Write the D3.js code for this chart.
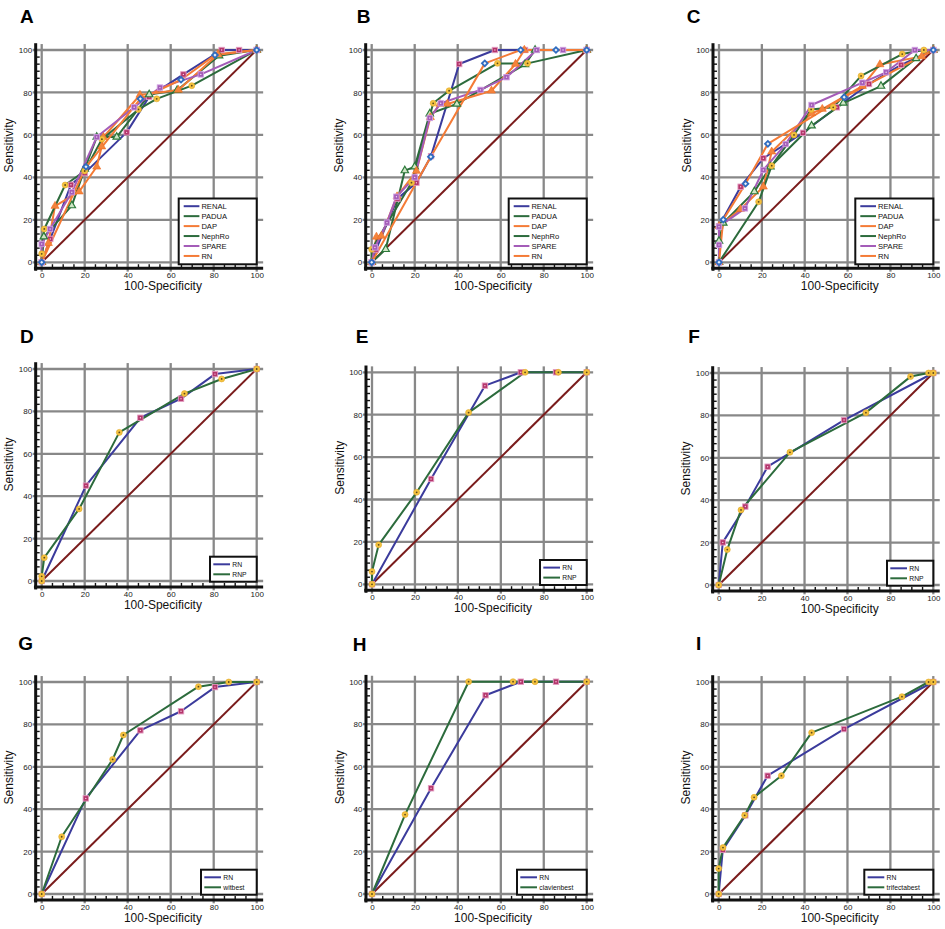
<!DOCTYPE html>
<html><head><meta charset="utf-8">
<script src="https://cdn.jsdelivr.net/npm/d3@7"></script>
<style>body{margin:0;background:#fff}svg{display:block}</style>
</head><body>
<svg id="c" width="945" height="929"></svg>
<script>
// ---------- data ----------
const tickValues = [0, 20, 40, 60, 80, 100];
const panelLetters = ["A","B","C","D","E","F","G","H","I"];
const namesABC = ["RENAL","PADUA","DAP","NephRo","SPARE","RN"];
const namesD = ["RN","RNP"];
const namesE = ["RN","RNP"];
const namesF = ["RN","RNP"];
const namesG = ["RN","witbest"];
const namesH = ["RN","clavienbest"];
const namesI = ["RN","trifectabest"];

// [100-Specificity, Sensitivity]
const A_RENAL  = [[0,0],[4,11],[13.6,36.5],[20,42],[39.5,61.2],[50,78],[65.9,88.5],[83.7,100],[91.8,100],[100,100]];
const A_PADUA  = [[0,0],[1,12],[14,26.7],[20,44],[25.6,59],[34.9,59],[50,79],[63,81],[82.5,97.3],[100,100]];
const A_DAP    = [[0,0],[3.1,9],[6.2,26.5],[17.4,33.3],[25.6,45],[27.9,54.5],[28.7,58.9],[45.7,78.8],[63.6,81.2],[82,98],[100,100]];
const A_NephRo = [[0,0],[0,4],[1.2,15.7],[10.9,36.4],[20,43],[28,58],[45,72],[53.5,77],[69.8,83.2],[100,100]];
const A_SPARE  = [[0,0],[0,8.6],[3.9,15.7],[14,33],[25.6,59],[43,73],[55,82.3],[74,88.5],[100,100]];
const A_RN     = [[0,0],[20.6,45],[45.9,77],[64.8,86],[80.6,97.6],[100,100]];

const B_RENAL  = [[0,0],[2,6],[12,30],[20.8,37.5],[27.6,50],[40.7,93.4],[57.3,100],[71.3,100],[100,100]];
const B_PADUA  = [[0,0],[6.5,6.1],[15.4,43.2],[20,45],[27,70],[39.6,74.6],[71.3,93.2],[76,100],[100,100]];
const B_DAP    = [[0,0],[2.2,12],[4.5,12.4],[11.8,31],[20.8,43],[27.3,68.3],[31.7,74.6],[35.2,74.6],[55.7,80.8],[66.9,93.4],[71,100],[100,100]];
const B_NephRo = [[0,0],[0,6.1],[18.5,37.5],[28.6,74.9],[36,80.8],[58.5,93.7],[72.5,93.7],[100,100]];
const B_SPARE  = [[0,0],[1.5,7],[7.1,18.7],[11.5,30.9],[20,40],[27,68],[32.1,74.9],[50.6,81.2],[62.7,87.2],[76.7,100],[89,100],[100,100]];
const B_RN     = [[0,0],[27.5,49.7],[52.6,93.7],[69.3,100],[85.7,100],[100,100]];

const C_RENAL  = [[0,0],[0,17],[10.1,35.6],[20.7,49],[39.2,61],[55,73],[70,84],[85,93],[100,100]];
const C_PADUA  = [[0,0],[0,10],[2,18.5],[16.5,33.3],[24,45],[43.2,64.3],[58,75],[75.6,83],[92,96],[100,100]];
const C_DAP    = [[0,0],[0,17],[10,25],[20.7,35.6],[24.6,52.1],[43.2,70.2],[48.2,72.2],[66.9,83],[75.1,93.2],[94.6,97],[100,100]];
const C_NephRo = [[0,0],[18.5,28.5],[24.6,45.5],[35,60],[43,72],[53.3,73],[66.3,87.8],[85.5,98.1],[95.6,100],[100,100]];
const C_SPARE  = [[0,0],[0,8.2],[0,16.8],[12.1,25.4],[20.7,43.5],[31.1,55.7],[43.2,74.1],[66.9,84.6],[78,89.5],[91.4,100],[100,100]];
const C_RN     = [[0,0],[2,20.1],[12.4,37],[22.8,55.8],[58.4,77.8],[100,100]];

const D_RN  = [[0,0],[20.6,45],[45.9,77],[64.8,86],[80.6,97.6],[100,100]];
const D_RNP = [[0,0],[0,2.2],[1.2,11],[17.4,34],[36.1,70.1],[66.4,88.4],[83.7,95.3],[100,100]];
const E_RN  = [[0,0],[27.5,49.7],[52.6,93.7],[69.3,100],[85.7,100],[100,100]];
const E_RNP = [[0,0],[0,6],[3.1,18.6],[20.8,43.4],[45,81],[71.3,100],[86.8,100],[100,100]];
const F_RN  = [[0,0],[1.9,20.1],[12.4,37],[22.8,55.8],[58.4,77.8],[100,100]];
const F_RNP = [[0,0],[4,16.7],[10.4,35.4],[33.2,62.6],[68.6,81.3],[89.4,98.3],[97.8,100],[100,100]];
const G_RN      = [[0,0],[20.5,45.1],[45.9,77.2],[64.8,86.2],[80.6,97.6],[100,100]];
const G_witbest = [[0,0],[9.3,27],[33,63.5],[38,75],[72.9,97.8],[87,100],[100,100]];
const H_RN          = [[0,0],[27.5,49.8],[52.9,93.6],[69.3,100],[85.7,100],[100,100]];
const H_clavienbest = [[0,0],[15.4,37.4],[45,100],[65.7,100],[75.9,100],[100,100]];
const I_RN           = [[0,0],[1.9,20.8],[12.4,37.1],[22.8,55.8],[58.4,77.8],[100,100]];
const I_trifectabest = [[0,0],[0,12],[2,21.9],[12.1,37.1],[16.5,45.6],[29.2,55.8],[43.3,76.1],[85.4,93.1],[97.8,100],[100,100]];

// ---------- styles / layout ----------
const FONT = "'Liberation Sans', Arial, Helvetica, sans-serif";
const styleABC = {
  RENAL:  {color:"#3b3b9c", marker:"rsq"},
  PADUA:  {color:"#2c6b3c", marker:"gtri"},
  DAP:    {color:"#f47b36", marker:"otri"},
  NephRo: {color:"#2c6b3c", marker:"ycirc"},
  SPARE:  {color:"#a45cb8", marker:"psq"},
  RN:     {color:"#f47b36", marker:"bdia"}
};
const style2 = [{color:"#3b3b9c", marker:"rsq"},{color:"#2c6b3c", marker:"ycirc"}];

const panels = [
  {x0:41.7, x100:256.7, y0:262.3, y100:50, lx:20, ly:22.7, legW:78, names:namesABC, data:[A_RENAL,A_PADUA,A_DAP,A_NephRo,A_SPARE,A_RN]},
  {x0:371.7, x100:586.7, y0:262.3, y100:50, lx:356.7, ly:22.7, legW:78, names:namesABC, data:[B_RENAL,B_PADUA,B_DAP,B_NephRo,B_SPARE,B_RN]},
  {x0:719, x100:933.3, y0:262.3, y100:50, lx:686.7, ly:22.7, legW:78, names:namesABC, data:[C_RENAL,C_PADUA,C_DAP,C_NephRo,C_SPARE,C_RN]},
  {x0:41.7, x100:256.7, y0:581, y100:369, lx:20, ly:343.3, legW:46.7, names:namesD, data:[D_RN,D_RNP]},
  {x0:372, x100:586.7, y0:584.3, y100:372.3, lx:355.7, ly:343.3, legW:46.7, names:namesE, data:[E_RN,E_RNP]},
  {x0:718.7, x100:933.3, y0:585, y100:373, lx:688.3, ly:343.3, legW:46.3, names:namesF, data:[F_RN,F_RNP]},
  {x0:41.7, x100:256.7, y0:894, y100:682, lx:18.3, ly:650, legW:55.7, names:namesG, data:[G_RN,G_witbest]},
  {x0:372, x100:586.7, y0:894, y100:681.7, lx:352.7, ly:650.7, legW:69.7, names:namesH, data:[H_RN,H_clavienbest]},
  {x0:718.7, x100:933.3, y0:894, y100:682, lx:696, ly:650, legW:69, names:namesI, data:[I_RN,I_trifectabest]}
];

const svg = d3.select("#c");
svg.append("rect").attr("width",945).attr("height",929).attr("fill","#fff");

function drawMarker(g, type, px, py) {
  if (type === "rsq") {
    g.append("rect").attr("x",px-2.7).attr("y",py-2.7).attr("width",5.4).attr("height",5.4)
      .attr("fill","#b4356b").attr("stroke","#e39ac0").attr("stroke-width",0.9);
    g.append("circle").attr("cx",px).attr("cy",py).attr("r",0.7).attr("fill","#f3d0e0");
  } else if (type === "psq") {
    g.append("rect").attr("x",px-2.7).attr("y",py-2.7).attr("width",5.4).attr("height",5.4)
      .attr("fill","#a45cb8").attr("stroke","#cf9ee0").attr("stroke-width",0.9);
    g.append("circle").attr("cx",px).attr("cy",py).attr("r",0.7).attr("fill","#f0e0f5");
  } else if (type === "ycirc") {
    g.append("circle").attr("cx",px).attr("cy",py).attr("r",3)
      .attr("fill","#f4c23f").attr("stroke","#e3aa2a").attr("stroke-width",0.6);
    g.append("circle").attr("cx",px).attr("cy",py).attr("r",0.9).attr("fill","#5c4a1c");
  } else if (type === "otri") {
    g.append("path").attr("d",d3.symbol(d3.symbolTriangle,28)()).attr("transform",`translate(${px},${py})`)
      .attr("fill","#f4843c").attr("stroke","#f06a20").attr("stroke-width",0.6);
  } else if (type === "gtri") {
    g.append("path").attr("d",d3.symbol(d3.symbolTriangle,24)()).attr("transform",`translate(${px},${py})`)
      .attr("fill","#cfe6c6").attr("stroke","#2c7a3a").attr("stroke-width",1.2);
  } else if (type === "bdia") {
    g.append("path").attr("d",d3.symbol(d3.symbolSquare,16)()).attr("transform",`translate(${px},${py}) rotate(45)`)
      .attr("fill","#e8f0fa").attr("stroke","#2f6cc0").attr("stroke-width",1.8);
  }
}

panels.forEach((p, i) => {
  const x = d3.scaleLinear().domain([0,100]).range([p.x0, p.x100]);
  const y = d3.scaleLinear().domain([0,100]).range([p.y0, p.y100]);
  const g = svg.append("g");

  // grid
  g.selectAll(null).data(tickValues).enter().append("line")
    .attr("x1",d=>x(d)).attr("x2",d=>x(d)).attr("y1",y(102.8)).attr("y2",y(-4.4))
    .attr("stroke","#888").attr("stroke-width",2.3);
  g.selectAll(null).data(tickValues).enter().append("line")
    .attr("y1",d=>y(d)).attr("y2",d=>y(d)).attr("x1",x(-4.2)).attr("x2",x(103))
    .attr("stroke","#888").attr("stroke-width",2.3);

  // minor ticks
  const minorX = d3.range(5, 100, 5).filter(v => v % 20 !== 0);
  const minorY = d3.range(1, 30).map(k => k * 20 / 6).filter((v, k) => (k + 1) % 6 !== 0);
  const axX = x(-2.8), axY = y(-2.8);
  g.selectAll(null).data(minorX).enter().append("line")
    .attr("x1",d=>x(d)).attr("x2",d=>x(d)).attr("y1",axY).attr("y2",axY-4)
    .attr("stroke","#111").attr("stroke-width",1.4);
  g.selectAll(null).data(minorY).enter().append("line")
    .attr("y1",d=>y(d)).attr("y2",d=>y(d)).attr("x1",axX).attr("x2",axX+4)
    .attr("stroke","#111").attr("stroke-width",1.4);

  // axis lines
  g.append("line").attr("x1",axX).attr("x2",axX).attr("y1",y(-4)).attr("y2",y(103.2))
    .attr("stroke","#111").attr("stroke-width",3);
  g.append("line").attr("x1",x(-3.6)).attr("x2",x(103)).attr("y1",axY).attr("y2",axY)
    .attr("stroke","#111").attr("stroke-width",3);

  // tick labels via d3 axes
  const ax = g.append("g").attr("transform",`translate(0,${axY})`)
    .call(d3.axisBottom(x).tickValues(tickValues).tickSize(0).tickPadding(4.3));
  const ay = g.append("g").attr("transform",`translate(${axX - 1.5},0)`)
    .call(d3.axisLeft(y).tickValues(tickValues).tickSize(0).tickPadding(2));
  [ax, ay].forEach(a => {
    a.select(".domain").remove();
    a.selectAll("text").attr("font-family",FONT).attr("font-size",8).attr("fill","#1a1a1a");
  });

  // axis titles
  g.append("text").attr("x",x(56.4)).attr("y",p.y0+27.5).attr("text-anchor","middle")
    .attr("font-family",FONT).attr("font-size",12).attr("fill","#111").text("100-Specificity");
  g.append("text").attr("transform",`translate(${p.x0-28.5},${y(55)}) rotate(-90)`).attr("text-anchor","middle")
    .attr("font-family",FONT).attr("font-size",12).attr("fill","#111").text("Sensitivity");

  // panel letter
  g.append("text").attr("x",p.lx).attr("y",p.ly).attr("font-family",FONT).attr("font-weight","bold")
    .attr("font-size",19).attr("fill","#000").text(panelLetters[i]);

  // reference diagonal
  g.append("line").attr("x1",x(0)).attr("y1",y(0)).attr("x2",x(100)).attr("y2",y(100))
    .attr("stroke","#7a1c1c").attr("stroke-width",2);

  const styles = p.names.length === 6 ? p.names.map(n => styleABC[n]) : style2;
  const line = d3.line().x(d=>x(d[0])).y(d=>y(d[1]));
  p.data.forEach((ser, k) => {
    g.append("path").attr("d",line(ser)).attr("fill","none")
      .attr("stroke",styles[k].color).attr("stroke-width",2).attr("stroke-linejoin","round");
  });
  p.data.forEach((ser, k) => {
    ser.forEach(d => drawMarker(g, styles[k].marker, x(d[0]), y(d[1])));
  });

  // legend
  const big = p.names.length === 6;
  const right = x(100);
  const left = right - p.legW;
  const top = big ? 198.5 : p.y0 - 24.3;
  const bottom = big ? p.y0 + 2 : p.y0 + 0.7;
  const lg = g.append("g");
  lg.append("rect").attr("x",left).attr("y",top).attr("width",p.legW).attr("height",bottom-top)
    .attr("fill","#fff").attr("stroke","#111").attr("stroke-width",2);
  p.names.forEach((n, k) => {
    const cy = top + (big ? 7.7 + k * 9.95 : 7.6 + k * 10);
    const l0 = left + (big ? 5 : 3.3), l1 = left + (big ? 20.7 : 20);
    lg.append("line").attr("x1",l0).attr("x2",l1).attr("y1",cy).attr("y2",cy)
      .attr("stroke",styles[k].color).attr("stroke-width",2);
    lg.append("text").attr("x",left + (big ? 22.7 : 22.3)).attr("y",cy).attr("dy","0.35em")
      .attr("font-family",FONT).attr("font-size",big ? 7.6 : 6.8).attr("fill","#111").text(n);
  });
});
</script>
</body></html>
